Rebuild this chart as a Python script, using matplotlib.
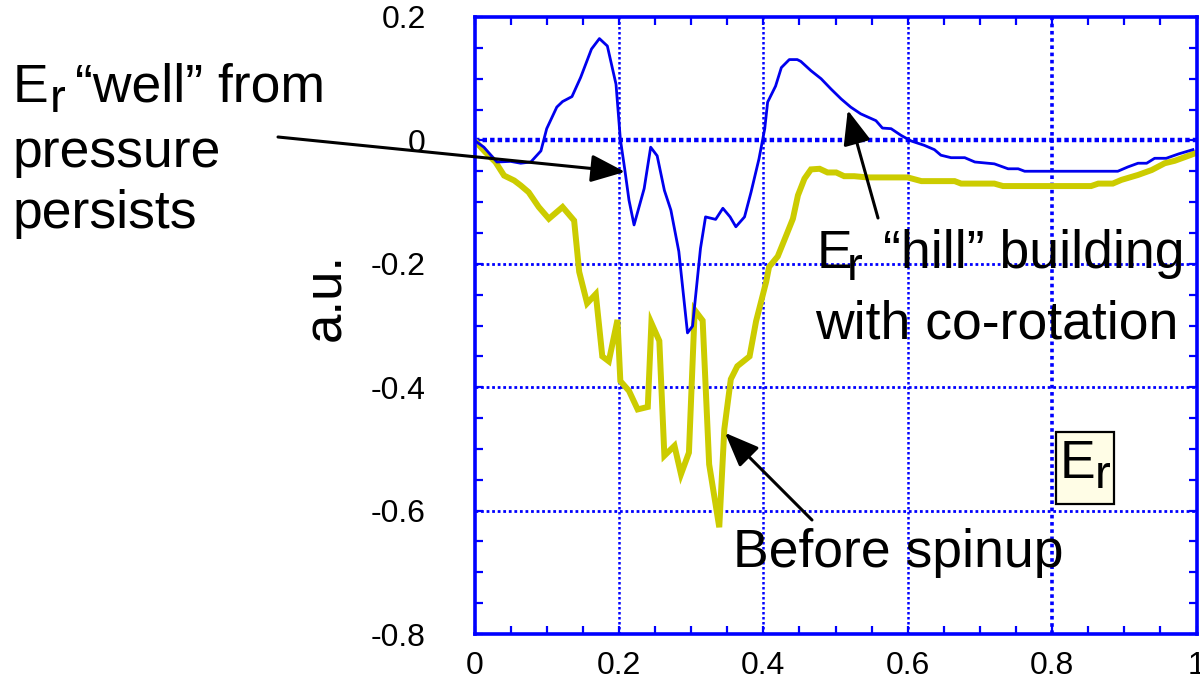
import matplotlib
matplotlib.use("Agg")
import matplotlib.pyplot as plt
from matplotlib.ticker import MultipleLocator, FixedLocator, FixedFormatter
from matplotlib.patches import Rectangle

plt.rcParams['font.family'] = ['Liberation Sans', 'DejaVu Sans']

# ---- data ----
after_x = [0.000, 0.013, 0.031, 0.050, 0.064, 0.078, 0.092, 0.100, 0.114, 0.122,
           0.135, 0.147, 0.162, 0.173, 0.184, 0.196, 0.202, 0.208, 0.214, 0.221,
           0.235, 0.244, 0.253, 0.263, 0.272, 0.283, 0.295, 0.302, 0.313, 0.320,
           0.334, 0.344, 0.354, 0.362, 0.374, 0.383, 0.394, 0.402, 0.406, 0.417,
           0.425, 0.436, 0.447, 0.452, 0.466, 0.480, 0.494, 0.508, 0.521, 0.535,
           0.556, 0.565, 0.577, 0.591, 0.605, 0.623, 0.637, 0.646, 0.660, 0.679,
           0.693, 0.720, 0.739, 0.753, 0.762, 0.891, 0.905, 0.919, 0.931, 0.942,
           0.958, 0.975, 0.995]
after_y = [0.000, -0.011, -0.035, -0.034, -0.037, -0.035, -0.017, 0.019, 0.054, 0.063,
           0.071, 0.102, 0.148, 0.165, 0.153, 0.091, 0.002, -0.046, -0.097, -0.137,
           -0.078, -0.011, -0.025, -0.081, -0.113, -0.180, -0.312, -0.301, -0.175, -0.124,
           -0.128, -0.110, -0.124, -0.140, -0.124, -0.084, -0.030, 0.019, 0.062, 0.088,
           0.118, 0.131, 0.131, 0.128, 0.113, 0.100, 0.083, 0.067, 0.054, 0.043,
           0.032, 0.020, 0.019, 0.008, -0.001, -0.008, -0.015, -0.024, -0.028, -0.028,
           -0.035, -0.038, -0.046, -0.046, -0.050, -0.050, -0.043, -0.037, -0.037, -0.029,
           -0.029, -0.022, -0.015]

before_x = [0.000, 0.015, 0.029, 0.041, 0.055, 0.064, 0.075, 0.089, 0.103, 0.122,
            0.138, 0.145, 0.156, 0.168, 0.177, 0.186, 0.198, 0.202, 0.214, 0.226,
            0.240, 0.245, 0.256, 0.263, 0.277, 0.286, 0.297, 0.305, 0.316, 0.325,
            0.339, 0.346, 0.355, 0.364, 0.381, 0.390, 0.404, 0.408, 0.420, 0.429,
            0.441, 0.448, 0.457, 0.466, 0.478, 0.489, 0.501, 0.512, 0.526, 0.544,
            0.600, 0.619, 0.665, 0.674, 0.720, 0.732, 0.854, 0.864, 0.884, 0.896,
            0.919, 0.938, 0.956, 0.970, 0.998]
before_y = [0.000, -0.019, -0.035, -0.057, -0.065, -0.073, -0.084, -0.108, -0.127, -0.108,
            -0.130, -0.213, -0.264, -0.249, -0.350, -0.358, -0.291, -0.390, -0.406, -0.436,
            -0.432, -0.296, -0.325, -0.511, -0.495, -0.541, -0.506, -0.275, -0.292, -0.525,
            -0.627, -0.468, -0.387, -0.366, -0.350, -0.293, -0.229, -0.205, -0.188, -0.162,
            -0.127, -0.089, -0.062, -0.047, -0.046, -0.052, -0.052, -0.058, -0.058, -0.060,
            -0.060, -0.066, -0.066, -0.070, -0.070, -0.074, -0.074, -0.070, -0.070, -0.064,
            -0.056, -0.048, -0.037, -0.033, -0.021]

xticks = [0, 0.2, 0.4, 0.6, 0.8, 1.0]
xtick_labels = ['0', '0.2', '0.4', '0.6', '0.8', '1']
yticks = [-0.8, -0.6, -0.4, -0.2, 0.0, 0.2]
ytick_labels = ['-0.8', '-0.6', '-0.4', '-0.2', '0', '0.2']

W, H = 1200, 684
fig = plt.figure(figsize=(12, 6.84), dpi=100)
ax = fig.add_axes([474.5 / W, 1 - 634 / H, 722 / W, 617 / H])

BLUE = '#0000FF'
ax.set_xlim(0, 1)
ax.set_ylim(-0.8, 0.2)

# grid
for xv in xticks[1:-1]:
    bold = abs(xv - 0.8) < 1e-9
    ax.axvline(xv, color=BLUE, lw=2.6 if bold else 1.8,
               linestyle=(0, (1, 1)), zorder=1)
for yv in yticks[1:-1]:
    bold = abs(yv) < 1e-9
    ax.axhline(yv, color=BLUE, lw=3.2 if bold else 2.0,
               linestyle=(0, (1, 0.7)) if bold else (0, (1, 1)), zorder=1)

ax.plot(before_x, before_y, color='#CCCC00', lw=4.3, zorder=2, solid_joinstyle='miter')
ax.plot(after_x, after_y, color='#0000EE', lw=2.0, zorder=3)

for sp in ax.spines.values():
    sp.set_color(BLUE)
    sp.set_linewidth(2.6)

ax.xaxis.set_major_locator(FixedLocator(xticks))
ax.xaxis.set_major_formatter(FixedFormatter(xtick_labels))
ax.yaxis.set_major_locator(FixedLocator(yticks))
ax.yaxis.set_major_formatter(FixedFormatter(ytick_labels))
ax.xaxis.set_minor_locator(MultipleLocator(0.05))
ax.yaxis.set_minor_locator(MultipleLocator(0.05))
ax.tick_params(which='both', direction='in', top=True, right=True,
               color=BLUE, width=1.6, length=6)
ax.tick_params(axis='y', which='major', pad=35, labelsize=23)
ax.tick_params(axis='x', which='major', pad=12, labelsize=23)

fig.text(326 / W, 1 - 297 / H, 'a.u.', rotation=90, fontsize=38,
         ha='center', va='center')

FS = 38.5
SUB = 34


def ftext(px, py, s, size=FS, **kw):
    return fig.text(px / W, 1 - py / H, s, fontsize=size, ha='left',
                    va='baseline', **kw)


# "well" annotation text
ftext(13, 102, 'E')
ftext(50, 112, 'r', SUB)
ftext(75, 102, '“well” from')
ftext(13, 167, 'pressure')
ftext(13, 228, 'persists')

# "hill" annotation text
ftext(817, 268, 'E')
ftext(847, 280, 'r', SUB)
ftext(883, 268, '“hill” building')
ftext(815, 338, 'with co-rotation')

# before spinup
ftext(733, 567, 'Before spinup')

# Er box
fig.patches.append(Rectangle((1056 / W, 1 - 504 / H), 58 / W, 72 / H,
                             transform=fig.transFigure, facecolor='#FFFDE6',
                             edgecolor='black', lw=1.6, zorder=5))
ftext(1060, 478, 'E', zorder=6)
ftext(1095, 488, 'r', SUB, zorder=6)

arrow_style = '-|>,head_length=21,head_width=8.5'
arrows = [((0.2085, -0.051), (278, 137)),
          ((0.517, 0.049), (878, 218)),
          ((0.347, -0.474), (812, 520))]
for (tx, ty), (px, py) in arrows:
    ax.annotate('', xy=(tx, ty), xycoords='data',
                xytext=(px / W, 1 - py / H), textcoords='figure fraction',
                arrowprops=dict(arrowstyle=arrow_style, mutation_scale=1,
                                color='black', lw=2.2, shrinkA=0, shrinkB=0),
                annotation_clip=False, zorder=6)

fig.savefig('out.png', dpi=100)
